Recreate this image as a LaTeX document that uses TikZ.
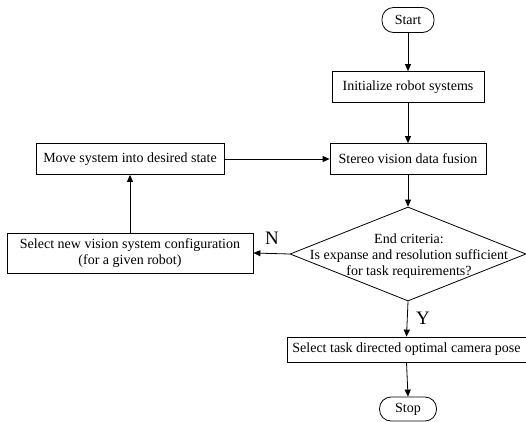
\documentclass[tikz,border=0pt]{standalone}
\usepackage{fontspec}
\setmainfont{Liberation Serif}
\usetikzlibrary{arrows.meta,shapes.geometric}
\begin{document}
\begin{tikzpicture}[x=1pt,y=-1pt,
  every node/.style={font=\fontsize{14}{16}\selectfont},
  box/.style={draw,line width=0.8pt,inner sep=0pt,align=center},
  term/.style={box,rounded corners=11.5pt},
  dia/.style={draw,line width=0.8pt,diamond,inner sep=0pt,minimum width=236pt,minimum height=94pt},
  arr/.style={line width=0.8pt,-{Triangle[length=7pt,width=6pt]}},
  yn/.style={font=\fontsize{19}{19}\selectfont,inner sep=0pt}]
\useasboundingbox (0,0) rectangle (526,421);
\node[term,minimum width=52pt,minimum height=25pt] (start) at (408,20) {Start};
\node[box,minimum width=152pt,minimum height=31pt] (init) at (408,87) {Initialize robot systems};
\node[box,minimum width=156pt,minimum height=31pt] (stereo) at (408,159) {Stereo vision data fusion};
\node[box,minimum width=188pt,minimum height=31pt] (move) at (130,159) {Move system into desired state};
\node[box,minimum width=246pt,minimum height=40pt] (selnew) at (130,253) {Select new vision system configuration\\(for a given robot)};
\node[dia] (crit) at (408,254) {};
\node[align=center,inner sep=0pt] (crittext) at (409,256) {End criteria:\\Is expanse and resolution sufficient\\for task requirements?};
\node[box,minimum width=239pt,minimum height=25pt] (seltask) at (406.5,349.5) {Select task directed optimal camera pose};
\node[term,minimum width=57pt,minimum height=24pt] (stop) at (408,409) {Stop};
\draw[arr] (start) -- (init);
\draw[arr] (init) -- (stereo);
\draw[arr] (stereo) -- (crit.north);
\draw[arr] (crit.west) -- (selnew.east);
\draw[arr] (selnew.north) -- (move.south);
\draw[arr] (move.east) -- (stereo.west);
\draw[arr] (crit.south) -- (seltask.north);
\draw[arr] (seltask.south) -- (stop.north);
\node[yn] (nlab) at (272,238) {N};
\node[yn] (ylab) at (423,318) {Y};
\end{tikzpicture}
\end{document}
